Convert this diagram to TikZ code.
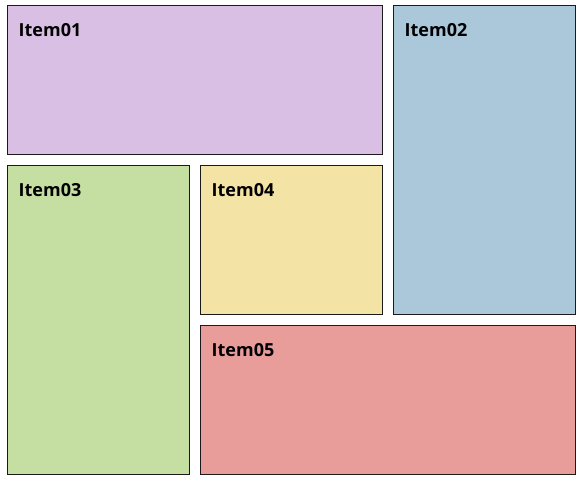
\documentclass[tikz,border=0pt]{standalone}
\usepackage{fontspec}
\setmainfont{Open Sans}
\definecolor{cA}{HTML}{D9BFE3}
\definecolor{cB}{HTML}{ABC8DA}
\definecolor{cC}{HTML}{C4DFA1}
\definecolor{cD}{HTML}{F3E3A5}
\definecolor{cE}{HTML}{E89D9B}
\definecolor{edge}{HTML}{1A1A1A}
\tikzset{
  tile/.style={draw=edge, line width=1pt},
  lbl/.style={anchor=base west, inner sep=0pt, font=\fontsize{18}{20}\selectfont\bfseries, text=black}
}
\begin{document}
\begin{tikzpicture}[x=1pt,y=-1pt]
\useasboundingbox (0,0) rectangle (581,481);
\filldraw[tile, fill=cA] (7.5,5.5) rectangle (382.5,154.5);
\filldraw[tile, fill=cB] (393.5,5.5) rectangle (575.5,314.5);
\filldraw[tile, fill=cC] (7.5,165.5) rectangle (189.5,474.5);
\filldraw[tile, fill=cD] (200.5,165.5) rectangle (382.5,314.5);
\filldraw[tile, fill=cE] (200.5,325.5) rectangle (575.5,474.5);
\node[lbl] (t1) at (18.5,36.5) {Item01};
\node[lbl] (t2) at (404.5,36.5) {Item02};
\node[lbl] (t3) at (18.5,196.5) {Item03};
\node[lbl] (t4) at (211.5,196.5) {Item04};
\node[lbl] (t5) at (211.5,356.5) {Item05};
\end{tikzpicture}
\end{document}
